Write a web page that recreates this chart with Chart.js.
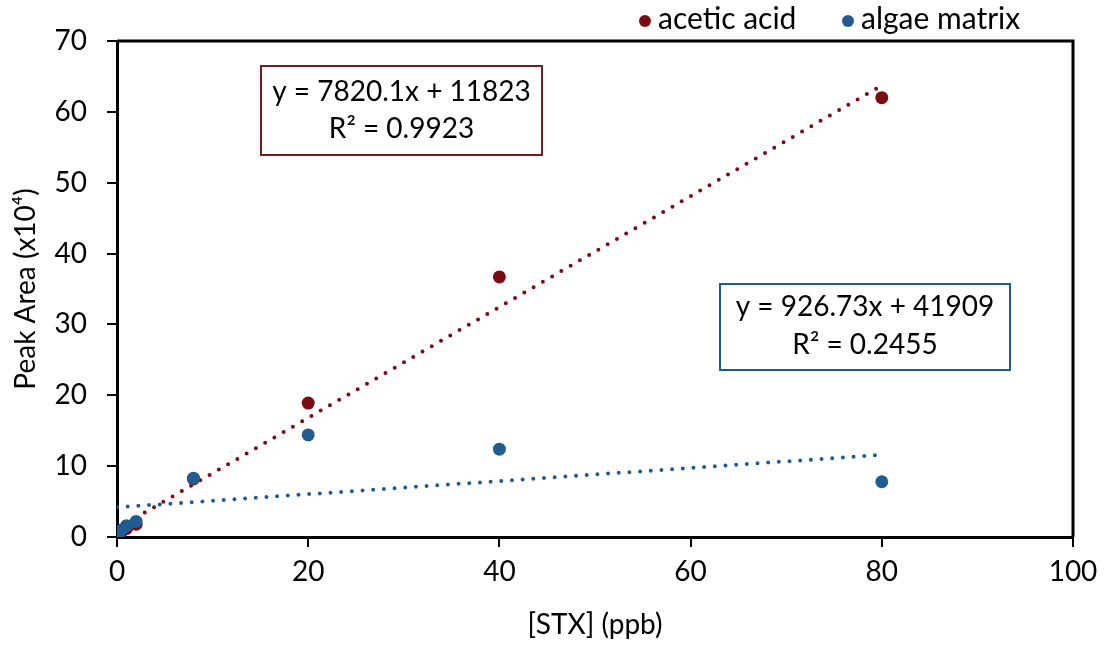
<!DOCTYPE html>
<html><head><meta charset="utf-8">
<script src="https://cdn.jsdelivr.net/npm/chart.js@4/dist/chart.umd.min.js"></script>
<style>html,body{margin:0;padding:0;background:#fff}#wrap{width:1106px;height:649px}</style>
</head><body><div id="wrap"><canvas id="c" width="1106" height="649"></canvas></div>
<script>
// Data
const stxConc = [0.2, 0.5, 1, 2, 8, 20, 40, 80];
const aceticArea = [0.4, 0.8, 1.2, 1.8, 8.2, 18.9, 36.7, 62.0];
const algaeArea = [0.5, 1.0, 1.6, 2.2, 8.3, 14.4, 12.4, 7.8];
const trendX = [0, 80];
const aceticTrend = [1.18, 63.74];
const algaeTrend = [4.19, 11.60];
const seriesNames = ['acetic acid', 'algae matrix'];
const eqTexts = [['y = 7820.1x + 11823', 'R² = 0.9923'], ['y = 926.73x + 41909', 'R² = 0.2455']];
const xTicks = [0, 20, 40, 60, 80, 100];
const yTicks = [0, 10, 20, 30, 40, 50, 60, 70];

const RED = '#7d0b14', BLUE = '#215c91';
const FONT = 'Lato, "Open Sans", sans-serif';
const pts = (xs, ys) => xs.map((x, i) => ({x, y: ys[i]}));

const overlay = {
  id: 'overlay',
  afterDraw(chart) {
    const ctx = chart.ctx, a = chart.chartArea;
    ctx.save();
    ctx.strokeStyle = '#000'; ctx.lineWidth = 3;
    ctx.beginPath();
    ctx.moveTo(a.left, a.top); ctx.lineTo(a.right, a.top); ctx.lineTo(a.right, a.bottom);
    ctx.stroke();
    // equation boxes
    const boxes = [
      {x: 261, y: 66, w: 281, h: 89, c: '#7a1a22', t: eqTexts[0], l1: 0.29, l2: 0.71},
      {x: 720, y: 284, w: 290, h: 86, c: '#1f5a8a', t: eqTexts[1], l1: 0.27, l2: 0.71}
    ];
    ctx.font = '28px ' + FONT;
    ctx.textAlign = 'center'; ctx.textBaseline = 'middle';
    boxes.forEach(b => {
      ctx.fillStyle = '#fff'; ctx.fillRect(b.x, b.y, b.w, b.h);
      ctx.strokeStyle = b.c; ctx.lineWidth = 2; ctx.strokeRect(b.x, b.y, b.w, b.h);
      ctx.fillStyle = '#000';
      ctx.fillText(b.t[0], b.x + b.w / 2, b.y + b.h * b.l1);
      ctx.fillText(b.t[1], b.x + b.w / 2, b.y + b.h * b.l2);
    });
    // legend
    ctx.font = '30px ' + FONT; ctx.textAlign = 'left';
    const items = [{x: 645, c: RED}, {x: 848, c: BLUE}];
    items.forEach((it, i) => {
      ctx.fillStyle = it.c; ctx.beginPath(); ctx.arc(it.x, 21, 6, 0, Math.PI * 2); ctx.fill();
      ctx.fillStyle = '#000'; ctx.fillText(seriesNames[i], it.x + 13, 19);
    });
    ctx.restore();
  }
};

new Chart(document.getElementById('c'), {
  type: 'scatter',
  data: {
    datasets: [
      {label: seriesNames[0] + ' trend', type: 'line', data: pts(trendX, aceticTrend), borderColor: RED, borderWidth: 4, borderDash: [0, 10.7], borderCapStyle: 'round', pointRadius: 0, fill: false, order: 3},
      {label: seriesNames[1] + ' trend', type: 'line', data: pts(trendX, algaeTrend), borderColor: BLUE, borderWidth: 4, borderDash: [0, 10.7], borderCapStyle: 'round', pointRadius: 0, fill: false, order: 4},
      {label: seriesNames[0], data: pts(stxConc, aceticArea), backgroundColor: RED, borderColor: RED, pointRadius: 6.5, borderWidth: 0, order: 2},
      {label: seriesNames[1], data: pts(stxConc, algaeArea), backgroundColor: BLUE, borderColor: BLUE, pointRadius: 6.5, borderWidth: 0, order: 1}
    ]
  },
  options: {
    responsive: false, animation: false,
    layout: {padding: {top: 41, right: 33, left: 0, bottom: 0}},
    plugins: {legend: {display: false}, tooltip: {enabled: false}},
    scales: {
      x: {
        type: 'linear', min: 0, max: 100,
        afterBuildTicks: s => { s.ticks = xTicks.map(v => ({value: v})); },
        afterFit: s => { s.height = 112; },
        grid: {drawOnChartArea: false, drawTicks: true, tickLength: 10, color: '#000', lineWidth: 2},
        border: {display: true, color: '#000', width: 3},
        ticks: {color: '#000', font: {family: FONT, size: 28}, padding: 8},
        title: {display: true, text: '[STX] (ppb)', color: '#000', font: {family: FONT, size: 28}, padding: {top: 0, bottom: 7}}
      },
      y: {
        type: 'linear', min: 0, max: 70,
        afterBuildTicks: s => { s.ticks = yTicks.map(v => ({value: v})); },
        afterFit: s => { s.width = 117; },
        grid: {drawOnChartArea: false, drawTicks: true, tickLength: 10, color: '#000', lineWidth: 2},
        border: {display: true, color: '#000', width: 3},
        ticks: {color: '#000', font: {family: FONT, size: 28}, padding: 20},
        title: {display: true, text: 'Peak Area (x10⁴)', color: '#000', font: {family: FONT, size: 28}, padding: {top: 9, bottom: 0}}
      }
    }
  },
  plugins: [overlay]
});
</script></body></html>
